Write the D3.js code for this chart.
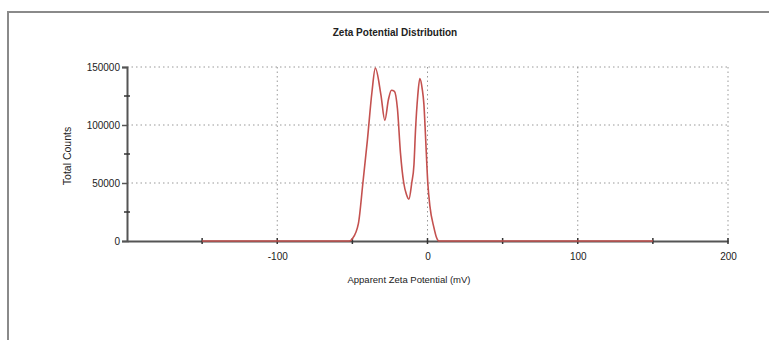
<!DOCTYPE html>
<html>
<head>
<meta charset="utf-8">
<script src="https://cdn.jsdelivr.net/npm/d3@7"></script>
<style>
  body { margin: 0; background: #fff; }
  svg text { font-family: "Liberation Sans", Arial, sans-serif; fill: #222; }
</style>
</head>
<body>
<svg id="chart" width="769" height="340"></svg>
<script>
// values
var zeta = [-150, -52, -50, -46, -43, -40, -37, -34.7, -31, -28.4, -26, -24, -22, -20, -18, -15.8, -14, -12.4, -10.5, -9, -8, -6.5, -5.1, -3.5, -2.4, -1.3, 0.2, 1.6, 4.2, 6, 7.5, 150];
var counts = [0, 0, 2000, 15000, 50000, 87000, 128000, 149000, 126000, 104000, 122000, 130000, 129000, 114000, 76000, 50000, 40000, 36000, 50000, 66000, 95000, 125000, 140000, 131000, 118000, 90000, 50000, 30000, 12000, 3000, 0, 0];
var xTicks = [-100, 0, 100, 200];
var xMinor = [-150, -50, 50, 150];
var yTicks = [0, 50000, 100000, 150000];
var yMinor = [25000, 75000, 125000];

var svg = d3.select("#chart"),
    margin = {top: 67, left: 127, right: 41, bottom: 99},
    width = +svg.attr("width") - margin.left - margin.right,
    height = +svg.attr("height") - margin.top - margin.bottom;

var data = zeta.map(function(d, i) { return {mv: d, c: counts[i]}; });

var x = d3.scaleLinear().domain([-200, 200]).range([0, width]),
    y = d3.scaleLinear().domain([0, 150000]).range([height, 0]);

// frame (top and left edge only)
svg.append("path")
    .attr("d", "M769,12H8V340")
    .attr("fill", "none")
    .attr("stroke", "#8a8a8a")
    .attr("stroke-width", 2);

svg.append("text")
    .attr("x", 395)
    .attr("y", 36)
    .attr("text-anchor", "middle")
    .attr("font-size", 10)
    .attr("font-weight", "bold")
    .text("Zeta Potential Distribution");

var g = svg.append("g")
    .attr("transform", "translate(" + margin.left + "," + margin.top + ")");

// dotted grid
g.selectAll(".hgrid")
    .data(yTicks.slice(1))
    .enter().append("line")
    .attr("x1", 0).attr("x2", width)
    .attr("y1", function(d) { return y(d); })
    .attr("y2", function(d) { return y(d); })
    .attr("stroke", "#999")
    .attr("stroke-dasharray", "1.5,3");

g.selectAll(".vgrid")
    .data(xTicks)
    .enter().append("line")
    .attr("x1", function(d) { return x(d); })
    .attr("x2", function(d) { return x(d); })
    .attr("y1", 0).attr("y2", height)
    .attr("stroke", "#999")
    .attr("stroke-dasharray", "1.5,3");

// x axis
var xAxis = g.append("g")
    .attr("transform", "translate(0," + height + ")")
    .call(d3.axisBottom(x).tickValues(xTicks).tickSize(0).tickPadding(12).tickFormat(function(d) { return String(d); }));
xAxis.select(".domain").attr("stroke", "#555").attr("stroke-width", 2);
xAxis.selectAll("text").attr("font-size", 10).attr("fill", "#222").attr("font-family", "Liberation Sans, Arial, sans-serif");

g.selectAll(".xtick")
    .data(xTicks.concat(xMinor))
    .enter().append("line")
    .attr("x1", function(d) { return x(d); })
    .attr("x2", function(d) { return x(d); })
    .attr("y1", height - 3).attr("y2", height + 3)
    .attr("stroke", "#333")
    .attr("stroke-width", 1.5);

// y axis
var yAxis = g.append("g")
    .call(d3.axisLeft(y).tickValues(yTicks).tickSize(5).tickPadding(2).tickFormat(function(d) { return String(d); }));
yAxis.select(".domain").attr("stroke", "#555").attr("stroke-width", 2);
yAxis.selectAll(".tick line").attr("stroke", "#555").attr("stroke-width", 1.5);
yAxis.selectAll("text").attr("font-size", 10).attr("fill", "#222").attr("font-family", "Liberation Sans, Arial, sans-serif");

g.selectAll(".ytick")
    .data(yMinor)
    .enter().append("line")
    .attr("x1", -3).attr("x2", 3)
    .attr("y1", function(d) { return y(d); })
    .attr("y2", function(d) { return y(d); })
    .attr("stroke", "#333")
    .attr("stroke-width", 1.5);

// axis titles
svg.append("text")
    .attr("x", 409)
    .attr("y", 283)
    .attr("text-anchor", "middle")
    .attr("font-size", 9.5)
    .text("Apparent Zeta Potential (mV)");

svg.append("text")
    .attr("transform", "translate(71,156) rotate(-90)")
    .attr("text-anchor", "middle")
    .attr("font-size", 10.5)
    .text("Total Counts");

// distribution curve
g.append("path")
    .datum(data)
    .attr("fill", "none")
    .attr("stroke", "#c4514f")
    .attr("stroke-width", 1.6)
    .attr("stroke-linejoin", "round")
    .attr("d", d3.line()
        .x(function(d) { return x(d.mv); })
        .y(function(d) { return y(d.c); })
        .curve(d3.curveMonotoneX));
</script>
</body>
</html>
